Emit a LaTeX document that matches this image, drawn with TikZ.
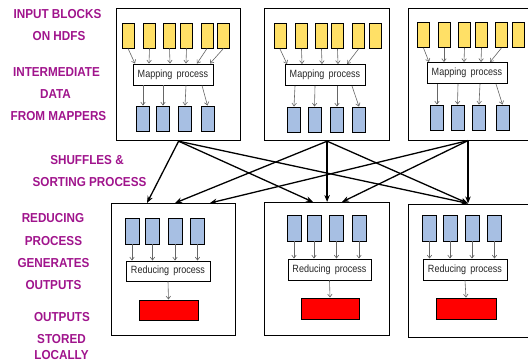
\documentclass[tikz,border=0pt]{standalone}
\usepackage{fontspec}
\setmainfont{Liberation Sans}
\newfontfamily\labelfont[FakeStretch=0.9]{Liberation Sans}
\newfontfamily\procfont[FakeStretch=0.86]{Liberation Sans}
\usetikzlibrary{arrows.meta,calc}
\definecolor{lbl}{RGB}{160,20,140}
\definecolor{inyellow}{RGB}{255,224,102}
\definecolor{midblue}{RGB}{167,191,227}
\definecolor{outred}{RGB}{255,0,0}
\tikzset{
  frame/.style={draw=black, line width=1.2pt, fill=white, inner sep=0pt, anchor=north west},
  blk/.style={draw=black, line width=0.9pt, inner sep=0pt, minimum width=12pt, minimum height=25pt},
  inblk/.style={blk, fill=inyellow},
  midblk/.style={blk, fill=midblue, minimum width=13pt},
  outblk/.style={draw=black, line width=0.9pt, fill=outred, inner sep=0pt, minimum width=59pt, minimum height=20pt},
  proc/.style={draw=black, line width=0.9pt, fill=white, inner sep=0pt, minimum width=80pt, minimum height=21pt,
    font=\procfont\fontsize{10.5}{10.5}\selectfont, text=black!85},
  garr/.style={draw=black!60, line width=0.6pt, -{Straight Barb[length=3pt,width=4.5pt]}},
  flow/.style={draw=black, line width=1.3pt, -{Stealth[length=7pt,width=5.5pt]}},
  lab/.style={font=\labelfont\bfseries\fontsize{13}{13}\selectfont, text=lbl, inner sep=0pt},
}
\begin{document}
\begin{tikzpicture}[x=1pt,y=-1pt]
\useasboundingbox (0,0) rectangle (528,364);
\clip (0,0) rectangle (528,364);

% ---------- side labels ----------
\node[lab] (l1) at (57.5,14) {INPUT BLOCKS};
\node[lab] (l2) at (59,36) {ON HDFS};
\node[lab] (l3) at (56.5,72) {INTERMEDIATE};
\node[lab] (l4) at (55.5,94) {DATA};
\node[lab] (l5) at (58.5,116) {FROM MAPPERS};
\node[lab] (l6) at (87,160) {SHUFFLES \&};
\node[lab] (l7) at (89.5,182) {SORTING PROCESS};
\node[lab] (l8) at (53,218) {REDUCING};
\node[lab] (l9) at (53.5,241) {PROCESS};
\node[lab] (l10) at (53.5,263) {GENERATES};
\node[lab] (l11) at (53.5,285) {OUTPUTS};
\node[lab] (l12) at (62,317) {OUTPUTS};
\node[lab] (l13) at (61.5,339) {STORED};
\node[lab] (l14) at (61.5,355) {LOCALLY};

% ---------- mapper frames (the third runs past the right edge) ----------
\node[frame, minimum width=124pt, minimum height=132pt] (m1) at (116,8) {};
\node[frame, minimum width=125pt, minimum height=132pt] (m2) at (264,8) {};
\node[frame, minimum width=140pt, minimum height=132pt] (m3) at (408,8) {};
\coordinate (m3s) at (468,140.6);

% mapper 1
\foreach \i/\x in {1/128,2/149.5,3/169.5,4/186.5,5/207,6/223.5}
  \node[inblk] (a\i) at (\x,35.5) {};
\node[proc] (p1) at (173,74.5) {Mapping\, process};
\foreach \i/\x in {1/143,2/163,3/185,4/207.5}
  \node[midblk] (b\i) at (\x,118.5) {};
\foreach \i/\x in {1/135,2/149,3/170,4/186,5/197,6/210}
  \draw[garr] (a\i.south) -- (\x,0 |- p1.north);
\foreach \i/\x in {1/143,2/163,3/186,4/202}
  \draw[garr] (\x,0 |- p1.south) -- (b\i.north);

% mapper 2
\foreach \i/\x in {1/280,2/301.5,3/321.5,4/337.5,5/358.5,6/375.5}
  \node[inblk] (c\i) at (\x,36) {};
\node[proc] (p2) at (325,75) {Mapping\, process};
\foreach \i/\x in {1/294,2/314.5,3/337,4/359}
  \node[midblk] (d\i) at (\x,119.5) {};
\foreach \i/\x in {1/287,2/302,3/322,4/338,5/347}
  \draw[garr] (c\i.south) -- (\x,0 |- p2.north);
\foreach \i/\x in {1/295,2/315,3/337,4/352}
  \draw[garr] (\x,0 |- p2.south) -- (d\i.north);

% mapper 3
\foreach \i/\x in {1/423.5,2/444,3/464.5,4/481.5,5/501.5,6/518.5}
  \node[inblk] (e\i) at (\x,35) {};
\node[proc] (p3) at (467,73) {Mapping\, process};
\foreach \i/\x in {1/437,2/457.5,3/479,4/502.5}
  \node[midblk] (f\i) at (\x,117.5) {};
\foreach \i/\x in {1/429,2/444,3/464,4/481,5/490}
  \draw[garr] (e\i.south) -- (\x,0 |- p3.north);
\foreach \i/\x in {1/437,2/458,3/480,4/496}
  \draw[garr] (\x,0 |- p3.south) -- (f\i.north);

% ---------- reducer frames (the third runs past the right edge) ----------
\node[frame, minimum width=124pt, minimum height=132pt] (r1) at (111,203) {};
\node[frame, minimum width=125pt, minimum height=133pt] (r2) at (264,202) {};
\node[frame, minimum width=140pt, minimum height=133pt] (r3) at (408,204) {};
\coordinate (r3n) at (468,203.4);

% reducer 1
\foreach \i/\x in {1/132,2/152.5,3/175,4/197.5}
  \node[midblk, minimum width=14pt, minimum height=26pt] (g\i) at (\x,231) {};
\node[proc, minimum width=84pt, minimum height=20pt] (q1) at (168,271) {Reducing\, process};
\node[outblk] (o1) at (168.5,310) {};
\foreach \i in {1,...,4}
  \draw[garr] (g\i.south) -- (g\i.south |- q1.north);
\draw[garr] (q1.south) -- (o1.north);

% reducer 2
\foreach \i/\x in {1/294,2/314,3/336.5,4/359}
  \node[midblk, minimum width=14pt, minimum height=26pt] (h\i) at (\x,228) {};
\node[proc, minimum width=83pt] (q2) at (329.5,269.5) {Reducing\, process};
\node[outblk, minimum width=58pt, minimum height=21pt] (o2) at (330,308.5) {};
\foreach \i in {1,...,4}
  \draw[garr] (h\i.south) -- (h\i.south |- q2.north);
\draw[garr] (q2.south) -- (o2.north);

% reducer 3
\foreach \i/\x in {1/429.5,2/450,3/472,4/494.5}
  \node[midblk, minimum width=14pt, minimum height=26pt] (k\i) at (\x,228) {};
\node[proc, minimum width=84pt] (q3) at (465,269.5) {Reducing\, process};
\node[outblk, minimum width=60pt, minimum height=21pt] (o3) at (466,308.5) {};
\foreach \i in {1,...,4}
  \draw[garr] (k\i.south) -- (k\i.south |- q3.north);
\draw[garr] (q3.south) -- (o3.north);

% ---------- shuffle connectors ----------
\draw[flow] (m1.south) -- (147,0 |- r1.north);
\draw[flow] (m1.south) -- (313,0 |- r2.north);
\draw[flow] (m1.south) -- (r3n);
\draw[flow] (m2.south) -- (175,0 |- r1.north);
\draw[flow] (m2.south) -- (r2.north);
\draw[flow] (m2.south) -- (r3n);
\draw[flow] (m3s) -- (210,0 |- r1.north);
\draw[flow] (m3s) -- (342,0 |- r2.north);
\draw[flow] (m3s) -- (r3n);
\end{tikzpicture}
\end{document}
